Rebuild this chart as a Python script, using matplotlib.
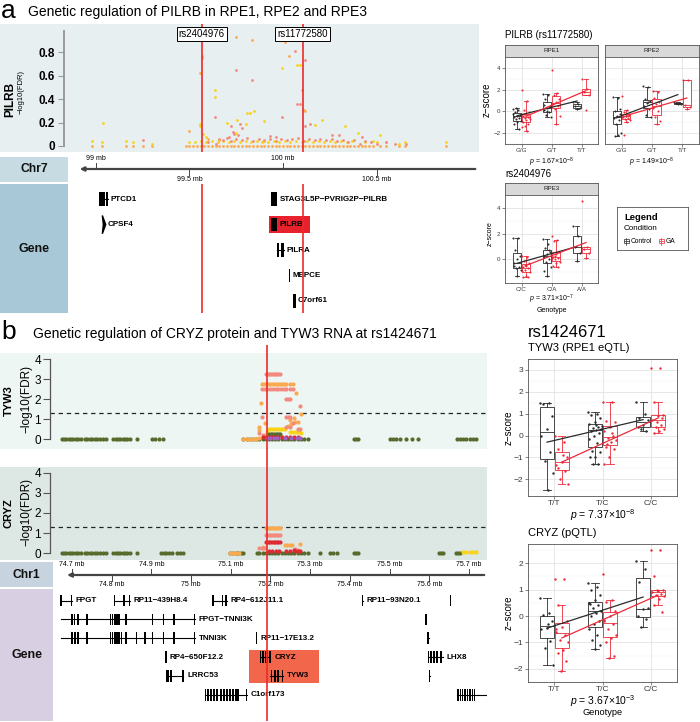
import numpy as np
import matplotlib
matplotlib.use('Agg')
import matplotlib.pyplot as plt
from matplotlib.patches import Rectangle, Polygon

plt.rcParams['font.family'] = ['Liberation Sans', 'DejaVu Sans']
plt.rcParams['mathtext.fontset'] = 'custom'
plt.rcParams['mathtext.rm'] = 'Liberation Sans'
plt.rcParams['mathtext.it'] = 'Liberation Sans:italic'

# ======================= DATA =======================
# ---- panel a : PILRB locus (Chr7, mb) ----
SNP_A = [99.565, 100.105]
SNP_A_labels = ['rs2404976', 'rs11772580']
A_yticks = [0, 0.2, 0.4, 0.6, 0.8]

A_yellow = [(98.98, .04), (99.03, .03), (99.039, .20), (99.16, .04), (99.20, .03), (99.30, .02),
            (99.556, .19), (99.556, .17), (99.57, .10), (99.59, .08), (99.636, .475), (99.636, .42),
            (99.70, .20), (99.75, .11), (99.752, .22), (99.80, .19), (99.806, .28), (99.824, .28),
            (99.847, .30), (99.898, .21), (99.993, .67), (100.073, .69), (100.091, .69), (100.17, .18),
            (100.207, .22), (100.332, .17), (100.40, .11), (100.52, .09),
            (99.50, .03), (99.53, .03), (99.56, .04), (99.59, .03), (99.62, .04), (99.65, .03),
            (99.68, .04), (99.71, .03), (99.74, .04), (99.77, .03), (99.80, .04), (99.83, .03),
            (99.86, .04), (99.89, .03), (99.92, .03), (99.95, .04), (99.98, .03), (100.01, .04),
            (100.04, .03), (100.07, .04), (100.10, .03), (100.13, .04), (100.16, .03), (100.19, .04),
            (100.22, .03), (100.25, .04), (100.28, .03), (100.31, .04), (100.34, .03), (100.37, .04),
            (100.44, .03), (100.48, .04), (100.50, .03), (100.55, .03), (100.62, .02), (100.65, .03),
            (100.87, .03)]
A_orange_zero = [98.98, 99.03, 99.16, 99.20, 99.25, 99.30,
                 99.48, 99.50, 99.52, 99.54, 99.56, 99.58, 99.60, 99.62, 99.64, 99.66, 99.68, 99.70,
                 99.72, 99.74, 99.76, 99.78, 99.80, 99.82, 99.84, 99.86, 99.88, 99.90, 99.92, 99.94,
                 99.96, 99.98, 100.00, 100.02, 100.04, 100.06, 100.08, 100.10, 100.12, 100.14, 100.16,
                 100.18, 100.20, 100.22, 100.24, 100.26, 100.28, 100.30, 100.32, 100.34, 100.36, 100.38,
                 100.40, 100.42, 100.44, 100.46, 100.48, 100.52, 100.55, 100.62, 100.65, 100.87]
A_orange = [(99.749, .935), (99.836, .909), (100.011, .892), (100.030, .771), (99.565, .771),
            (99.565, .751), (99.556, .627), (100.100, .483), (100.112, .311), (100.118, .30),
            (99.499, .124), (99.60, .06), (99.66, .05), (99.90, .04)]
A_salmon = [(100.064, .809), (100.118, .734), (99.749, .653), (99.836, .561), (100.073, .360),
            (100.091, .360), (99.993, .250), (99.636, .247), (99.770, .19), (99.72, .17), (99.78, .15),
            (100.118, .167), (100.144, .185), (99.930, .081), (99.96, .08), (100.26, .09), (100.30, .09),
            (100.42, .08), (99.25, .05), (99.73, .12), (99.71, .08), (99.74, .10), (99.76, .09),
            (99.60, .03), (99.64, .02), (99.66, .06), (99.68, .05), (99.70, .07), (99.72, .04),
            (99.75, .06), (99.78, .05), (99.81, .07), (99.84, .04), (99.87, .06), (99.90, .05),
            (99.93, .06), (99.96, .04), (99.99, .06), (100.02, .05), (100.05, .06), (100.08, .07),
            (100.11, .04), (100.14, .06), (100.17, .05), (100.20, .06), (100.23, .05), (100.26, .06),
            (100.29, .04), (100.32, .05), (100.35, .03), (100.38, .05), (100.41, .02), (100.44, .04),
            (100.47, .03), (100.50, .02), (100.55, .03), (100.60, .02), (100.66, .02)]

axisA_top = [99.0, 100.0]
axisA_bottom = [99.5, 100.5]

geneA_names = ['PTCD1', 'CPSF4', 'STAG3L5P\u2212PVRIG2P\u2212PILRB', 'PILRB', 'PILRA', 'MEPCE', 'C7orf61']
geneA_rows = [0, 1, 0, 1, 2, 3, 4]
geneA_exons = [[(99.014, 99.046), (99.054, 99.066)],
               [(99.034, 99.052)],
               [(99.934, 99.970)],
               [(99.934, 99.970)],
               [(99.968, 99.978), (99.990, 100.005)],
               [(100.030, 100.040)],
               [(100.054, 100.068)]]
geneA_highlight = (99.923, 100.144, 1)

# ---- panel b : CRYZ / TYW3 locus (Chr1, mb) ----
SNP_B = 75.19
B_yticks = [0, 1, 2, 3, 4]
FDR_line = 1.301

B_tyw_green_zero = [74.674, 74.680, 74.686, 74.692, 74.698, 74.704, 74.710, 74.716, 74.722, 74.733,
                    74.739, 74.745, 74.751, 74.758, 74.764, 74.771, 74.779, 74.787, 74.804, 74.810,
                    74.816, 74.822, 74.828, 74.834, 74.840, 74.846, 74.863, 74.901, 74.910, 74.920,
                    74.930, 75.132, 75.140, 75.148, 75.156, 75.164, 75.172, 75.180, 75.188, 75.196,
                    75.204, 75.212, 75.220, 75.228, 75.236, 75.244, 75.252, 75.260, 75.268, 75.276,
                    75.284, 75.294, 75.409, 75.415, 75.421, 75.501, 75.509, 75.517, 75.525, 75.540,
                    75.555, 75.572, 75.669, 75.677, 75.685, 75.693, 75.701, 75.709, 75.717]
B_tyw_orange = [(75.132, 0), (75.140, 0), (75.148, 0), (75.156, 0), (75.164, 0), (75.170, .05),
                (75.176, 1.82), (75.172, .62), (75.172, .45), (75.186, .82), (75.178, 2.78), (75.183, 2.78),
                (75.188, 2.78), (75.193, 2.78), (75.198, 2.78), (75.203, 2.78), (75.208, 2.78), (75.213, 2.78),
                (75.218, 2.78), (75.223, 2.78), (75.228, 2.78), (75.233, 2.78), (75.238, 2.78), (75.249, 2.78),
                (75.256, 2.78), (75.263, 2.32), (75.278, 1.25), (75.249, .95), (75.252, .78), (75.262, .85),
                (75.270, .87), (75.245, .65), (75.258, 1.05)]
B_tyw_salmon = [(75.188, 3.28), (75.192, 3.28), (75.196, 3.28), (75.200, 3.28), (75.204, 3.28),
                (75.208, 3.28), (75.212, 3.28), (75.216, 3.28), (75.220, 3.28), (75.224, 3.28),
                (75.178, 2.5), (75.185, 2.5), (75.192, 2.5), (75.199, 2.5), (75.206, 2.5), (75.213, 2.5),
                (75.220, 2.5), (75.227, 2.5), (75.234, 2.5), (75.240, 2.5), (75.250, 2.5), (75.256, 2.5),
                (75.240, 2.03), (75.245, 2.03), (75.250, 2.03), (75.274, 1.67), (75.178, 1.13),
                (75.240, 1.13), (75.245, 1.13), (75.250, 1.13), (75.257, .80), (75.240, .60), (75.248, .60),
                (75.268, .48), (75.274, .48), (75.172, .30), (75.180, .20)]
B_tyw_yellow = [(75.197, .50), (75.202, .50), (75.207, .50), (75.212, .50), (75.217, .50), (75.222, .50),
                (75.227, .50), (75.232, .50), (75.236, .50), (75.249, .37), (75.255, .37), (75.261, .37),
                (75.267, .35), (75.273, .35), (75.278, .30), (75.190, .35), (75.185, .20)]
B_tyw_dkgreen = [(75.197, .25), (75.201, .25), (75.205, .25), (75.209, .25), (75.213, .25), (75.217, .25),
                 (75.221, .25), (75.224, .25), (75.200, .15), (75.210, .15)]
B_tyw_crimson = [(75.180, .12), (75.188, .12), (75.196, .10), (75.204, .12), (75.212, .12), (75.220, .10),
                 (75.228, .12), (75.240, .10), (75.250, .12), (75.260, .10), (75.270, .08)]
B_tyw_purple = [(75.192, .04), (75.200, .04), (75.208, .03), (75.216, .04), (75.236, .04), (75.252, .03),
                (75.266, .05), (75.275, .04)]

B_cryz_green_zero = [74.674, 74.680, 74.686, 74.692, 74.698, 74.704, 74.710, 74.716, 74.722, 74.733,
                     74.739, 74.745, 74.751, 74.758, 74.764, 74.771, 74.779, 74.787, 74.804, 74.810,
                     74.816, 74.822, 74.828, 74.834, 74.840, 74.846, 74.863, 74.924, 74.931, 74.938,
                     74.944, 74.951, 74.964, 74.972, 74.980, 75.098, 75.105, 75.112, 75.119, 75.126,
                     75.131, 75.165, 75.172, 75.180, 75.188, 75.196, 75.204, 75.212, 75.220, 75.228,
                     75.236, 75.244, 75.252, 75.260, 75.268, 75.276, 75.284, 75.295, 75.325, 75.350,
                     75.358, 75.367, 75.409, 75.415, 75.421, 75.623, 75.629, 75.635, 75.666, 75.672,
                     75.678]
B_cryz_orange = [(75.188, 1.25), (75.192, 1.25), (75.196, 1.25), (75.200, 1.25), (75.204, 1.25),
                 (75.208, 1.25), (75.212, 1.25), (75.216, 1.25), (75.220, 1.25), (75.224, 1.25),
                 (75.236, .40), (75.242, .40), (75.248, .40), (75.254, .40), (75.274, .45),
                 (75.098, 0), (75.106, 0), (75.114, 0), (75.122, 0), (75.180, .30)]
B_cryz_salmon = [(75.188, .92), (75.192, .92), (75.196, .92), (75.200, .92), (75.204, .92), (75.208, .92),
                 (75.212, .92), (75.216, .92), (75.220, .92), (75.224, .92), (75.172, .25), (75.178, .25),
                 (75.184, .28), (75.262, .20), (75.268, .18)]
B_cryz_crimson = [(75.188, .57), (75.192, .57), (75.196, .57), (75.200, .57), (75.204, .57), (75.208, .57),
                  (75.212, .57), (75.216, .57), (75.220, .57), (75.224, .57), (75.197, .12), (75.205, .12),
                  (75.213, .12), (75.221, .12), (75.240, .12), (75.248, .12), (75.258, .14), (75.266, .12),
                  (75.274, .10)]
B_cryz_yellow = [(75.685, .06), (75.693, .06), (75.701, .06), (75.709, .06), (75.717, .06)]

axisB_top = [74.7, 74.9, 75.1, 75.3, 75.5, 75.7]
axisB_bottom = [74.8, 75.0, 75.2, 75.4, 75.6]

geneB_names = ['FPGT', 'RP11\u2212439H8.4', 'RP4\u2212612J11.1', 'RP11\u221293N20.1', '',
               'FPGT\u2212TNNI3K', '', 'TNNI3K', 'RP11\u221217E13.2', '',
               'RP4\u2212650F12.2', 'CRYZ', 'LHX8', 'LRRC53', 'TYW3', '', 'C1orf173', '']
geneB_rows = [0, 0, 0, 0, 0, 1, 1, 2, 2, 2, 3, 3, 3, 4, 4, 4, 5, 5]
geneB_spans = [(74.672, 74.700), (74.807, 74.846), (75.055, 75.090), (75.431, 75.432), (75.652, 75.653),
               (74.672, 75.010), (75.591, 75.592), (74.672, 75.010), (75.165, 75.166), (75.596, 75.599),
               (74.936, 74.937), (75.173, 75.200), (75.596, 75.634), (74.936, 74.980), (75.200, 75.232),
               (75.600, 75.601), (75.034, 75.140), (75.669, 75.745)]
geneB_exons = [[74.6725, 74.6995], [74.8075, 74.831, 74.8445], [75.0555, 75.079, 75.0885], [75.4315], [75.6525],
               [74.7008, 74.7063, 74.7159, 74.7385, 74.7975, 74.8020, 74.8083, 74.8134, 74.8184, 74.8360,
                74.9033, 74.9300, 74.9569, 75.0081],
               [75.5915],
               [74.7008, 74.7076, 74.7159, 74.7385, 74.7975, 74.8025, 74.8083, 74.8141, 74.8191, 74.8247,
                74.8360, 74.8630, 74.8839, 74.9033, 74.9300, 74.9569, 75.0081],
               [75.1655], [75.5965, 75.5985],
               [74.9365], [75.1750, 75.1811, 75.1870, 75.1930, 75.1985],
               [75.5980, 75.6043, 75.6118, 75.6194, 75.6295],
               [74.9380, 74.9418, 74.9494, 74.9795], [75.2025, 75.2113, 75.2189, 75.2300],
               [75.6005],
               [75.0360, 75.0426, 75.0501, 75.0577, 75.0652, 75.0753, 75.0829, 75.0904, 75.0980, 75.1055,
                75.1131, 75.1181, 75.1395],
               [75.672, 75.678, 75.684, 75.690, 75.696, 75.702, 75.708, 75.714]]
geneB_highlight = (75.147, 75.323, 3.5)

# ---- right-hand boxplot panels ----
CONDITIONS = ['Control', 'GA']
geno_RPE12 = ['G/G', 'G/T', 'T/T']
geno_RPE3 = ['C/C', 'C/A', 'A/A']
geno_B = ['T/T', 'T/C', 'C/C']

RPE1_ctrl = [[0.25, 0.1, -0.1, -0.3, -0.4, -0.5, -0.6, -0.7, -0.9, -1.0, -1.2, -1.6, 0.3, -0.2],
             [1.6, 1.5, 1.1, 0.5, 0.3, 0.1, -0.1, -0.3, -0.5, 0.0, 0.6],
             [0.9, 0.7, 0.5, 0.3, 0.2]]
RPE1_ga = [[2.0, 1.0, 0.1, -0.1, -0.3, -0.4, -0.5, -0.6, -0.7, -0.8, -1.0, -1.2, -1.3, -1.4, -1.8, -0.2, -0.5],
           [3.8, 1.7, 1.5, 1.1, 0.9, 0.7, 0.5, 0.2, -0.4, -1.2],
           [3.0, 2.1, 1.8, 1.5, 0.1]]
RPE1_fit = {'Control': (-0.40, 0.95), 'GA': (-0.45, 1.90)}
RPE1_p = r'$p$ = 1.67$\times$10$^{-8}$'

RPE2_ctrl = [[1.3, 1.2, 0.0, -0.2, -0.4, -0.6, -0.8, -1.2, -2.0, -2.2, -2.3, 0.2, -0.5],
             [2.3, 2.2, 1.1, 1.0, 0.8, 0.5, 0.2, -0.3, -0.5, 0.9],
             [0.9, 0.8, 0.75, 0.7, 0.65]]
RPE2_ga = [[1.4, 0.1, -0.1, -0.3, -0.4, -0.5, -0.6, -0.7, -0.8, -1.0, -2.2, -0.2, -0.4],
           [1.9, 1.8, 1.2, 0.9, 0.7, 0.3, 0.0, -0.5, -0.9, -1.2],
           [2.9, 2.9, 0.6, 0.4, 0.2]]
RPE2_fit = {'Control': (-0.56, 1.54), 'GA': (-0.38, 1.23)}
RPE2_p = r'$p$ = 1.49$\times$10$^{-8}$'

RPE3_ctrl = [[1.7, 1.7, 0.7, 0.3, 0.0, -0.3, -0.6, -0.7, -0.8, -1.3, -0.5],
             [1.6, 1.2, 0.9, 0.6, 0.4, 0.2, 0.0, -0.2, -0.6, -1.3, -0.9, 0.7],
             [2.6, 1.8, 1.0, 0.5, -0.1]]
RPE3_ga = [[0.3, 0.2, -0.1, -0.3, -0.5, -0.6, -0.7, -0.8, -1.0, -1.3, -1.4, -1.4, -0.4, -0.9],
           [1.8, 1.5, 1.4, 0.6, 0.4, 0.2, 0.1, 0.0, -0.2, -0.3, -0.5, -0.6, 0.3, 0.1],
           [4.5, 1.0, 0.8, 0.5, 0.1]]
RPE3_fit = {'Control': (-0.30, 1.00), 'GA': (-0.47, 1.31)}
RPE3_p = r'$p$ = 3.71$\times$10$^{-7}$'

TYW3_ctrl = [[1.5, 1.5, 1.45, 0.9, 0.3, 0.0, -0.75, -1.15, -1.7, -2.5],
             [1.1, 1.0, 0.95, 0.8, 0.6, 0.55, 0.4, 0.35, 0.3, 0.25, 0.2, 0.1, 0.0, -0.15, -0.35, -0.7,
              -0.75, -1.0, -1.0, -1.3, -1.3, 0.45, 0.5],
             [1.55, 1.0, 0.8, 0.7, 0.5, 0.4, 0.2, 0.3]]
TYW3_ga = [[0.0, -0.3, -0.6, -1.0, -1.2, -1.35, -1.6, -2.0, -2.2, -0.9, -1.5],
           [1.55, 1.55, 0.65, 0.6, 0.4, 0.2, 0.0, -0.1, -0.2, -0.3, -0.5, -0.6, -1.0, -1.3, 0.1, -0.4],
           [3.1, 3.1, 1.55, 0.95, 0.9, 0.7, 0.5, 0.4, 0.3, 0.2, 0.1, 0.8, 0.6]]
TYW3_fit = {'Control': (-0.30, 0.73), 'GA': (-1.21, 0.80)}
TYW3_p = r'$p$ = 7.37$\times$10$^{-8}$'

CRYZ_ctrl = [[0.7, 0.1, 0.05, -0.2, -0.45, -0.5, -0.95, -1.2, -1.85, -0.3],
             [1.25, 1.1, 1.0, 0.8, 0.6, 0.5, 0.4, 0.3, 0.2, 0.1, 0.0, -0.2, -0.3, -0.5, -0.7, -0.9,
              -1.1, -1.25, 0.45],
             [2.1, 1.8, 1.3, 0.3, 0.25, 0.0, -0.1, -0.4]]
CRYZ_ga = [[1.4, 1.4, 0.4, -0.2, -0.4, -0.6, -0.7, -0.9, -1.0, -1.3, -1.4, -1.7, -2.1, -0.5],
           [1.6, 0.6, 0.55, 0.2, 0.0, -0.2, -0.3, -0.5, -0.7, -0.85, -1.0, -1.5, -1.6, -0.15],
           [2.5, 2.5, 1.5, 1.0, 0.95, 0.9, 0.85, 0.8, 0.75, 0.65, 0.4, 0.15, 1.0]]
CRYZ_fit = {'Control': (-0.46, 0.72), 'GA': (-0.83, 0.79)}
CRYZ_p = r'$p$ = 3.67$\times$10$^{-3}$'

# ======================= STYLE =======================
C_YEL, C_ORG, C_SAL = '#f7d417', '#fba94f', '#f38a80'
C_GRN, C_CRIM, C_PUR = '#566b2c', '#dd2a33', '#9b62c4'
C_RED, C_CTRL = '#ec2a3a', '#2b2b2b'
RED_LINE = '#ee2a2a'

W, H = 700, 722
fig = plt.figure(figsize=(7, 7.22), dpi=100)


def add_ax(x0, y0, x1, y1, **kw):
    return fig.add_axes([x0 / W, 1 - y1 / H, (x1 - x0) / W, (y1 - y0) / H], **kw)


def ftext(x, y, s, **kw):
    kw.setdefault('va', 'center')
    fig.text(x / W, 1 - y / H, s, **kw)


def blank(ax, face):
    ax.set_facecolor(face)
    ax.set_xticks([])
    ax.set_yticks([])
    for s in ax.spines.values():
        s.set_visible(False)


def xy(pairs):
    a = np.array(pairs, dtype=float)
    return a[:, 0], a[:, 1]


def label_box(x0, y0, x1, y1, face, text, fs=9):
    ax = add_ax(x0, y0, x1, y1)
    blank(ax, face)
    ax.text(0.5, 0.5, text, transform=ax.transAxes, ha='center', va='center',
            fontsize=fs, fontweight='bold', color='#111111')
    return ax


# ======================= PANEL a (left) =======================
ftext(1, 11, 'a', fontsize=19, ha='left')
ftext(28, 12, 'Genetic regulation of PILRB in RPE1, RPE2 and RPE3', fontsize=10, ha='left')

XA = (98.829, 101.048)
bg = add_ax(0, 24, 479, 152)
blank(bg, '#e7eff1')
manA = add_ax(64, 24, 479, 152)
manA.set_facecolor('none')
manA.set_xlim(*XA)
manA.set_ylim(-0.052, 1.044)
for s in ['top', 'right', 'bottom']:
    manA.spines[s].set_visible(False)
manA.spines['left'].set_bounds(0, 0.98)
manA.spines['left'].set_color('#9a9a9a')
manA.spines['left'].set_linewidth(1.4)
manA.set_xticks([])
manA.set_yticks(A_yticks)
manA.set_yticklabels(['0', '0.2', '0.4', '0.6', '0.8'])
manA.tick_params(axis='y', length=4.5, width=0.8, color='#9a9a9a', labelsize=8.5, pad=2)
for t in manA.get_yticklabels():
    t.set_fontweight('bold')
ms_a = 4
manA.scatter(A_orange_zero, np.zeros(len(A_orange_zero)), s=ms_a, color=C_ORG, lw=0, zorder=2)
x, y = xy(A_yellow); manA.scatter(x, y, s=ms_a, color=C_YEL, lw=0, zorder=3)
x, y = xy(A_salmon); manA.scatter(x, y, s=ms_a, color=C_SAL, lw=0, zorder=3)
x, y = xy(A_orange); manA.scatter(x, y, s=ms_a, color=C_ORG, lw=0, zorder=3)
for snp, lab in zip(SNP_A, SNP_A_labels):
    manA.axvline(snp, color=RED_LINE, lw=1.2, zorder=4)
    manA.text(snp, 0.958, lab, ha='center', va='center', fontsize=7, zorder=6,
              bbox=dict(boxstyle='square,pad=0.2', fc='white', ec='black', lw=0.7))
ftext(10, 99, 'PILRB', rotation=90, ha='center', fontsize=8.5, fontweight='bold')
ftext(21, 92, '\u2212log10(FDR)', rotation=90, ha='center', fontsize=5.5)

# genome axis track a
label_box(0, 157, 68, 182, '#c7dce2', 'Chr7', fs=8.7)
axA = add_ax(64, 152, 479, 184)
axA.set_xlim(*XA); axA.set_ylim(184, 152); axA.axis('off')
axA.annotate('', xy=(98.898, 169), xytext=(101.043, 169),
             arrowprops=dict(arrowstyle='-|>', color='#444444', lw=1.6, mutation_scale=6))
for v in axisA_top:
    axA.plot([v, v], [163, 169], color='#444444', lw=0.7)
    axA.text(v, 159, '%g mb' % v, ha='center', va='center', fontsize=5)
for v in axisA_bottom:
    axA.plot([v, v], [169, 175], color='#444444', lw=0.7)
    axA.text(v, 179.5, '%g mb' % v, ha='center', va='center', fontsize=5)

# gene track a
label_box(0, 184, 68, 313, '#a8c8d7', 'Gene', fs=9)
gA = add_ax(64, 184, 479, 313)
gA.set_xlim(*XA); gA.set_ylim(4.48, -0.6); gA.axis('off')
hs, he, hr = geneA_highlight
gA.add_patch(Rectangle((hs, hr - 0.33), he - hs, 0.66, color='#e8222c', lw=0, zorder=1))
for name, row, exons in zip(geneA_names, geneA_rows, geneA_exons):
    if name == 'CPSF4':
        s, e = exons[0]
        gA.add_patch(Polygon([(s, row - 0.36), (e, row), (s, row + 0.36), (s + (e - s) * 0.3, row)],
                             closed=True, color='black', zorder=3))
    else:
        if len(exons) > 1:
            gA.plot([exons[0][0], exons[-1][1]], [row, row], color='black', lw=0.8, zorder=2)
        for s, e in exons:
            gA.add_patch(Rectangle((s, row - 0.27), e - s, 0.54, color='black', lw=0, zorder=3))
    end = max(e for s, e in exons)
    gA.text(end + 0.012, row, name, ha='left', va='center', fontsize=5.8, fontweight='bold', zorder=4)
for snp in SNP_A:
    gA.axvline(snp, color=RED_LINE, lw=1.2, zorder=5)

# ======================= PANEL b (left) =======================
ftext(1, 332, 'b', fontsize=19, ha='left')
ftext(33, 334, 'Genetic regulation of CRYZ protein and TYW3 RNA at rs1424671', fontsize=10, ha='left')

XB = (74.645, 75.745)


def manB(y0, y1, ylim, bgc, gene, sets, zero, zero_col):
    b = add_ax(0, y0, 487, y1)
    blank(b, bgc)
    ax = add_ax(50, y0, 487, y1)
    ax.set_facecolor('none')
    ax.set_xlim(*XB)
    ax.set_ylim(*ylim)
    for s in ['top', 'right', 'bottom']:
        ax.spines[s].set_visible(False)
    ax.spines['left'].set_bounds(0, 4)
    ax.spines['left'].set_color('#555555')
    ax.spines['left'].set_linewidth(0.9)
    ax.set_xticks([])
    ax.set_yticks(B_yticks)
    ax.tick_params(axis='y', length=5, width=0.8, color='#555555', labelsize=8.5, pad=1.5)
    ax.axhline(FDR_line, color='#222222', lw=0.9, ls=(0, (3.5, 3)), zorder=1)
    ax.scatter(zero, np.zeros(len(zero)), s=9, color=zero_col, lw=0, zorder=2)
    for pairs, col in sets:
        x, y = xy(pairs)
        ax.scatter(x, y, s=9, color=col, lw=0, zorder=3)
    yc = (y0 + y1) / 2
    ftext(9, yc, gene, rotation=90, ha='center', fontsize=8, fontweight='bold')
    ftext(26, yc - 2, '\u2212log10(FDR)', rotation=90, ha='center', fontsize=8.5)
    return ax


manB(353, 449, (-0.5, 4.32), '#edf6f3', 'TYW3',
     [(B_tyw_orange, C_ORG), (B_tyw_yellow, C_YEL), (B_tyw_salmon, C_SAL), (B_tyw_dkgreen, C_GRN),
      (B_tyw_crimson, C_CRIM), (B_tyw_purple, C_PUR)], B_tyw_green_zero, C_GRN)
manB(467, 560, (-0.34, 4.29), '#dde8e5', 'CRYZ',
     [(B_cryz_yellow, C_YEL), (B_cryz_orange, C_ORG), (B_cryz_salmon, C_SAL), (B_cryz_crimson, C_CRIM)],
     B_cryz_green_zero, C_GRN)

# genome axis track b
label_box(0, 562, 53, 587, '#c7d4df', 'Chr1', fs=8.7)
axB = add_ax(50, 560, 487, 589)
axB.set_xlim(*XB); axB.set_ylim(589, 560); axB.axis('off')
axB.annotate('', xy=(74.681, 575), xytext=(75.745, 575),
             arrowprops=dict(arrowstyle='-|>', color='#444444', lw=1.6, mutation_scale=6))
for v in axisB_top:
    axB.plot([v, v], [569, 575], color='#444444', lw=0.7)
    axB.text(v, 565, '%g mb' % v, ha='center', va='center', fontsize=5)
for v in axisB_bottom:
    axB.plot([v, v], [575, 581], color='#444444', lw=0.7)
    axB.text(v, 584.5, '%g mb' % v, ha='center', va='center', fontsize=5)

# gene track b
label_box(0, 589, 53, 721, '#d9cfe3', 'Gene', fs=9)
gB = add_ax(50, 589, 487, 721)
gB.set_xlim(*XB); gB.set_ylim(6.4, -0.62); gB.axis('off')
hs, he, hr = geneB_highlight
gB.add_patch(Rectangle((hs, hr - 0.88), he - hs, 1.77, color='#f2674c', lw=0, zorder=1))
ex_w = 0.0035
for name, row, span, exons in zip(geneB_names, geneB_rows, geneB_spans, geneB_exons):
    gB.plot([span[0], span[1]], [row, row], color='black', lw=0.8, zorder=2)
    for c in exons:
        gB.add_patch(Rectangle((c - ex_w / 2, row - 0.31), ex_w, 0.62, color='black', lw=0, zorder=3))
    if name:
        gB.text(span[1] + 0.010, row, name, ha='left', va='center', fontsize=5.8,
                fontweight='bold', zorder=4)

# continuous SNP line for panel b
ovB = add_ax(50, 345, 487, 721)
ovB.set_facecolor('none'); ovB.axis('off')
ovB.set_xlim(*XB)
ovB.axvline(SNP_B, color=RED_LINE, lw=1.2, zorder=10)


# ======================= RIGHT PANELS =======================
def gg_panel(ax, ctrl, ga, fit, ylim, yticks, xlabels, off, width, ms, fs_tick, lw=0.6):
    ax.set_xlim(0.45, 3.55)
    ax.set_ylim(*ylim)
    ax.set_yticks(yticks)
    minor = [(a + b) / 2 for a, b in zip(yticks[:-1], yticks[1:])]
    minor = [yticks[0] - (yticks[1] - yticks[0]) / 2] + minor + [yticks[-1] + (yticks[1] - yticks[0]) / 2]
    ax.set_yticks(minor, minor=True)
    ax.set_xticks([1, 2, 3])
    ax.set_xticklabels(xlabels)
    ax.grid(which='major', color='#e3e3e3', lw=0.6)
    ax.grid(which='minor', axis='y', color='#f1f1f1', lw=0.35)
    ax.set_axisbelow(True)
    for s in ax.spines.values():
        s.set_color('#555555')
        s.set_linewidth(0.6)
    ax.tick_params(which='major', length=2, width=0.5, color='#555555', labelsize=fs_tick,
                   labelcolor='#3a3a3a', pad=1.2)
    ax.tick_params(which='minor', length=0)
    for cond, groups, sign, col in (('Control', ctrl, -1, C_CTRL), ('GA', ga, 1, C_RED)):
        for i, data in enumerate(groups):
            p = i + 1 + sign * off
            bp = ax.boxplot(data, positions=[p], widths=width, showfliers=False, patch_artist=True,
                            manage_ticks=False, capwidths=width * 0.5)
            for b in bp['boxes']:
                b.set(facecolor='white', edgecolor=col, linewidth=lw, zorder=2)
            for k in ('whiskers', 'caps', 'medians'):
                for l in bp[k]:
                    l.set(color=col, linewidth=lw, zorder=2)
            n = len(data)
            jit = ((np.arange(n) * 0.6180339887) % 1 - 0.5) * width * 0.95
            ax.scatter(p + jit, data, s=ms, color=col, lw=0, zorder=4)
        y0, y1 = fit[cond]
        ax.plot([1 + sign * off, 3 + sign * off], [y0, y1], color=col, lw=0.9, zorder=5)


def strip(x0, x1, y0, y1, text, fs=4.5):
    s = add_ax(x0, y0, x1, y1)
    blank(s, '#d9d9d9')
    for sp in s.spines.values():
        sp.set_visible(True); sp.set_color('#555555'); sp.set_linewidth(0.6)
    s.text(0.5, 0.5, text, transform=s.transAxes, ha='center', va='center', fontsize=fs, color='#222222')


ftext(505, 35, 'PILRB (rs11772580)', fontsize=7, ha='left')
strip(505, 598, 45, 57, 'RPE1')
strip(605, 699, 45, 57, 'RPE2')
ax1 = add_ax(505, 57, 598, 144)
gg_panel(ax1, RPE1_ctrl, RPE1_ga, RPE1_fit, (-2.62, 4.1), [-2, 0, 2, 4], geno_RPE12, 0.15, 0.28, 2.2, 4.5)
ax2 = add_ax(605, 57, 699, 144)
gg_panel(ax2, RPE2_ctrl, RPE2_ga, RPE2_fit, (-2.62, 4.1), [-2, 0, 2, 4], geno_RPE12, 0.15, 0.28, 2.2, 4.5)
ax2.set_yticklabels([])
ax2.tick_params(axis='y', length=0)
ftext(487, 100, 'z\u2212score', rotation=90, ha='center', fontsize=7)
ftext(551.5, 162.5, RPE1_p, ha='center', fontsize=5)
ftext(652, 162.5, RPE2_p, ha='center', fontsize=5)

ftext(505, 174, 'rs2404976', fontsize=7, ha='left')
strip(505, 598, 183, 195, 'RPE3')
ax3 = add_ax(505, 195, 598, 283)
gg_panel(ax3, RPE3_ctrl, RPE3_ga, RPE3_fit, (-1.83, 4.72), [0, 2, 4], geno_RPE3, 0.15, 0.28, 2.2, 4.5)
ftext(490.5, 234, 'z\u2212score', rotation=90, ha='center', fontsize=5)
ftext(551.5, 299, RPE3_p, ha='center', fontsize=5)
ftext(551.5, 311, 'Genotype', ha='center', fontsize=5)

# legend
lg = add_ax(617, 207, 688, 250)
lg.set_xlim(617, 688); lg.set_ylim(250, 207)
lg.set_xticks([]); lg.set_yticks([])
for sp in lg.spines.values():
    sp.set_color('#555555'); sp.set_linewidth(0.6)
lg.text(624, 217, 'Legend', fontsize=6.8, fontweight='bold', va='center')
lg.text(624, 229, 'Condition', fontsize=5.8, va='center')
for xk, col, lab in ((626, C_CTRL, CONDITIONS[0]), (661, C_RED, CONDITIONS[1])):
    lg.add_patch(Rectangle((xk - 2.5, 239), 5, 4, fc='white', ec=col, lw=0.5))
    lg.plot([xk - 2.5, xk + 2.5], [241, 241], color=col, lw=0.5)
    lg.plot([xk, xk], [237.5, 244.5], color=col, lw=0.5)
    lg.text(xk + 5, 241.2, lab, fontsize=4.8, va='center')

# panel b right
ftext(528, 333, 'rs1424671', fontsize=12, ha='left')
ftext(528, 348, 'TYW3 (RPE1 eQTL)', fontsize=8, ha='left')
ax4 = add_ax(528, 359, 677, 496)
gg_panel(ax4, TYW3_ctrl, TYW3_ga, TYW3_fit, (-2.76, 3.4), [-2, -1, 0, 1, 2, 3], geno_B, 0.155, 0.3, 3.0, 6)
ftext(509, 428, 'z\u2212score', rotation=90, ha='center', fontsize=7)
ftext(602.5, 515.5, TYW3_p, ha='center', fontsize=7.5)

ftext(528, 533, 'CRYZ (pQTL)', fontsize=8, ha='left')
ax5 = add_ax(528, 544, 677, 682)
gg_panel(ax5, CRYZ_ctrl, CRYZ_ga, CRYZ_fit, (-2.29, 2.73), [-2, -1, 0, 1, 2], geno_B, 0.155, 0.3, 3.0, 6)
ftext(509, 613, 'z\u2212score', rotation=90, ha='center', fontsize=7)
ftext(602.5, 701, CRYZ_p, ha='center', fontsize=7.5)
ftext(602.5, 712.5, 'Genotype', ha='center', fontsize=6.7)

fig.savefig('out.png', dpi=100)
